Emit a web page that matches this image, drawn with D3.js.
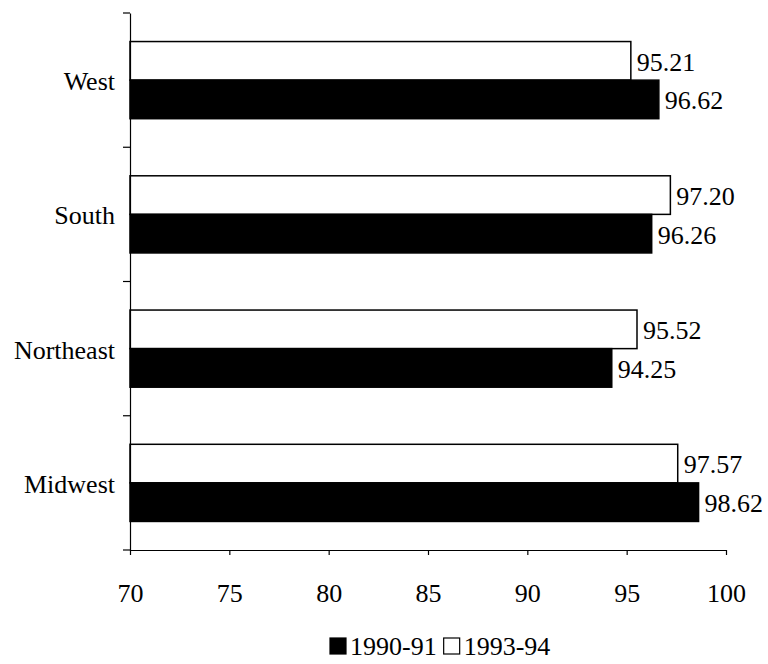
<!DOCTYPE html>
<html>
<head>
<meta charset="utf-8">
<script src="https://cdn.jsdelivr.net/npm/d3@7"></script>
<style>
  html, body { margin: 0; padding: 0; background: #fff; }
  svg { display: block; }
  text { font-family: "Liberation Serif", "Times New Roman", serif; fill: #000; }
</style>
</head>
<body>
<svg id="chart" width="768" height="664"></svg>
<script>
const categories = ["West", "South", "Northeast", "Midwest"];
const seriesNames = ["1993-94", "1990-91"];
const values9394 = [95.21, 97.20, 95.52, 97.57];
const values9091 = [96.62, 96.26, 94.25, 98.62];
const xTicks = [70, 75, 80, 85, 90, 95, 100];

const svg = d3.select("#chart");
const mLeft = 130, mRight = 726, mTop = 13, mBottom = 550;
const fs = 26;

const x = d3.scaleLinear().domain([70, 100]).range([mLeft, mRight]);
const y = d3.scaleBand().domain(categories).range([mTop, mBottom]).padding(0);
const yInner = d3.scaleBand().domain(seriesNames).range([0, y.bandwidth()])
  .paddingInner(0).paddingOuter(0.74);

const series = [
  { name: "1993-94", values: values9394, fill: "#fff" },
  { name: "1990-91", values: values9091, fill: "#000" }
];

const g = svg.append("g");

series.forEach(s => {
  const data = categories.map((c, i) => ({ c, v: s.values[i] }));
  g.selectAll(null).data(data).enter().append("rect")
    .attr("x", x(70))
    .attr("y", d => y(d.c) + yInner(s.name))
    .attr("width", d => x(d.v) - x(70))
    .attr("height", yInner.bandwidth())
    .attr("fill", s.fill)
    .attr("stroke", "#000")
    .attr("stroke-width", 1.5);
  g.selectAll(null).data(data).enter().append("text")
    .attr("x", d => x(d.v) + 6)
    .attr("y", d => y(d.c) + yInner(s.name) + yInner.bandwidth() / 2)
    .attr("dy", "0.38em")
    .attr("font-size", fs)
    .text(d => d.v.toFixed(2));
});

// Y axis
const yAxis = d3.axisLeft(y).tickSize(0).tickFormat("");
const yg = svg.append("g").attr("transform", `translate(${mLeft},0)`).call(yAxis);
yg.select(".domain").attr("stroke", "#000").attr("stroke-width", 1.2);
const boundaries = categories.map(c => y(c)).concat([mBottom]);
yg.selectAll(".bnd").data(boundaries).enter().append("line")
  .attr("x1", -7).attr("x2", 0)
  .attr("y1", d => d).attr("y2", d => d)
  .attr("stroke", "#000").attr("stroke-width", 1.2);

// Category labels
svg.selectAll(".cat").data(categories).enter().append("text")
  .attr("x", 115)
  .attr("y", d => y(d) + y.bandwidth() / 2)
  .attr("dy", "0.38em")
  .attr("text-anchor", "end")
  .attr("font-size", fs)
  .text(d => d);

// X axis
const xAxis = d3.axisBottom(x).tickValues(xTicks).tickSize(5).tickPadding(29).tickSizeOuter(0);
const xg = svg.append("g").attr("transform", `translate(0,${mBottom})`).call(xAxis);
xg.select(".domain").attr("stroke", "#000").attr("stroke-width", 1.2);
xg.selectAll(".tick line").attr("stroke", "#000").attr("stroke-width", 1.2);
xg.selectAll(".tick text").attr("font-size", fs).attr("font-family", "Liberation Serif");

// Legend
const legendItems = [
  { name: "1990-91", fill: "#000" },
  { name: "1993-94", fill: "#fff" }
];
const lg = svg.append("g").attr("transform", "translate(330,655)");
let cx = 0;
legendItems.forEach(it => {
  lg.append("rect").attr("x", cx).attr("y", -17).attr("width", 16).attr("height", 16)
    .attr("fill", it.fill).attr("stroke", "#000").attr("stroke-width", 1.2);
  const t = lg.append("text").attr("x", cx + 20).attr("y", 0).attr("font-size", fs).text(it.name);
  cx += 20 + t.node().getComputedTextLength() + 7;
});
</script>
</body>
</html>
